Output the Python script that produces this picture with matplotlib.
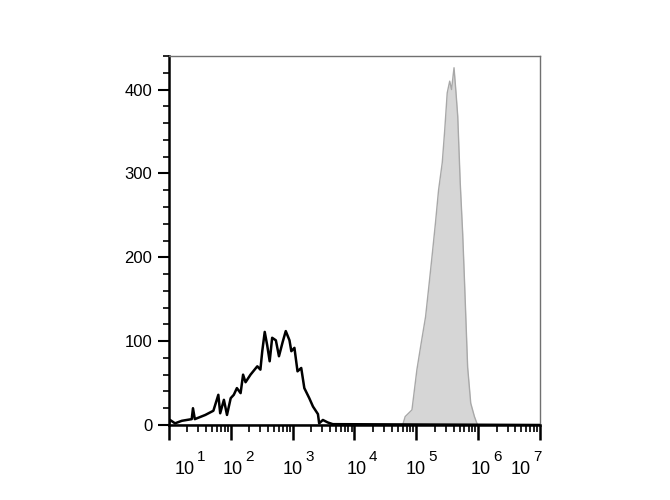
import numpy as np
import matplotlib.pyplot as plt
from matplotlib.ticker import LogLocator, MultipleLocator, NullFormatter

plt.rcParams['font.family'] = ['Liberation Sans', 'DejaVu Sans']

# unstained / isotype control (open black histogram): log10 intensity, count
ctrl_log = [1.00, 1.02, 1.10, 1.21, 1.37, 1.39, 1.42, 1.59, 1.72, 1.80, 1.83, 1.89, 1.94,
            2.00, 2.05, 2.10, 2.16, 2.20, 2.24, 2.32, 2.43, 2.48, 2.51, 2.55, 2.59, 2.63,
            2.67, 2.73, 2.78, 2.84, 2.89, 2.95, 2.98, 3.03, 3.08, 3.14, 3.19, 3.27, 3.33,
            3.41, 3.43, 3.49, 3.57, 3.65, 7.00]
ctrl_cnt = [0, 6, 2, 5, 7, 20, 7, 12, 17, 36, 14, 30, 12,
            32, 36, 44, 38, 60, 51, 60, 70, 66, 88, 111, 95, 76,
            104, 101, 82, 99, 112, 101, 88, 92, 64, 68, 44, 32, 22,
            13, 2, 6, 3, 1, 0]

# stained sample (filled grey histogram)
stain_log = [1.00, 4.78, 4.82, 4.93, 5.01, 5.08, 5.15, 5.21, 5.26, 5.31, 5.36, 5.42, 5.46,
             5.50, 5.54, 5.57, 5.61, 5.64, 5.67, 5.71, 5.75, 5.78, 5.83, 5.88, 5.94, 5.99, 7.00]
stain_cnt = [0, 0, 10, 18, 66, 98, 129, 170, 205, 241, 280, 313, 352,
             396, 410, 400, 426, 398, 368, 289, 228, 170, 69, 26, 10, 0, 0]

ytick_vals = [0, 100, 200, 300, 400]
xlabel_exps = [1, 2, 3, 4, 5, 6, 7]
xlabel_pos = [1.26, 2.03, 3.00, 4.03, 4.99, 6.04, 6.69]

fig = plt.figure(figsize=(6.7, 5), dpi=100)
ax = fig.add_axes([0.252, 0.15, 0.554, 0.738])

sx = 10 ** np.array(stain_log)
ax.fill_between(sx, stain_cnt, 0, color='#d6d6d6', linewidth=0, zorder=1)
ax.plot(sx, stain_cnt, color='#a8a8a8', lw=1.0, zorder=2)
ax.plot(10 ** np.array(ctrl_log), ctrl_cnt, color='black', lw=1.8, zorder=3)

ax.set_xscale('log')
ax.set_xlim(10, 1e7)
ax.set_ylim(0, 440)

ax.xaxis.set_major_locator(LogLocator(base=10, numticks=10))
ax.xaxis.set_minor_locator(LogLocator(base=10, subs=np.arange(2, 10), numticks=100))
ax.xaxis.set_major_formatter(NullFormatter())
ax.xaxis.set_minor_formatter(NullFormatter())
ax.set_yticks(ytick_vals)
ax.yaxis.set_minor_locator(MultipleLocator(20))

ax.tick_params(axis='x', which='major', direction='out', length=11, width=1.8, color='black')
ax.tick_params(axis='x', which='minor', direction='out', length=5, width=1.2, color='black')
ax.tick_params(axis='y', which='major', direction='out', length=8, width=1.5,
               labelsize=12, pad=4)
ax.tick_params(axis='y', which='minor', direction='out', length=4, width=1.2)

for side in ['left', 'bottom']:
    ax.spines[side].set_color('black')
    ax.spines[side].set_linewidth(1.8)
for side in ['top', 'right']:
    ax.spines[side].set_color('#707070')
    ax.spines[side].set_linewidth(1.0)

# decade labels: base "10" plus a detached superscript, as in the original export
for e, p in zip(xlabel_exps, xlabel_pos):
    ax.annotate('10', xy=(10 ** p, 0), xycoords=('data', 'axes fraction'),
                xytext=(0, -32), textcoords='offset points',
                ha='center', va='center', fontsize=13)
    ax.annotate(str(e), xy=(10 ** p, 0), xycoords=('data', 'axes fraction'),
                xytext=(12, -23), textcoords='offset points',
                ha='center', va='center', fontsize=11)

fig.savefig('out.png', dpi=100)
